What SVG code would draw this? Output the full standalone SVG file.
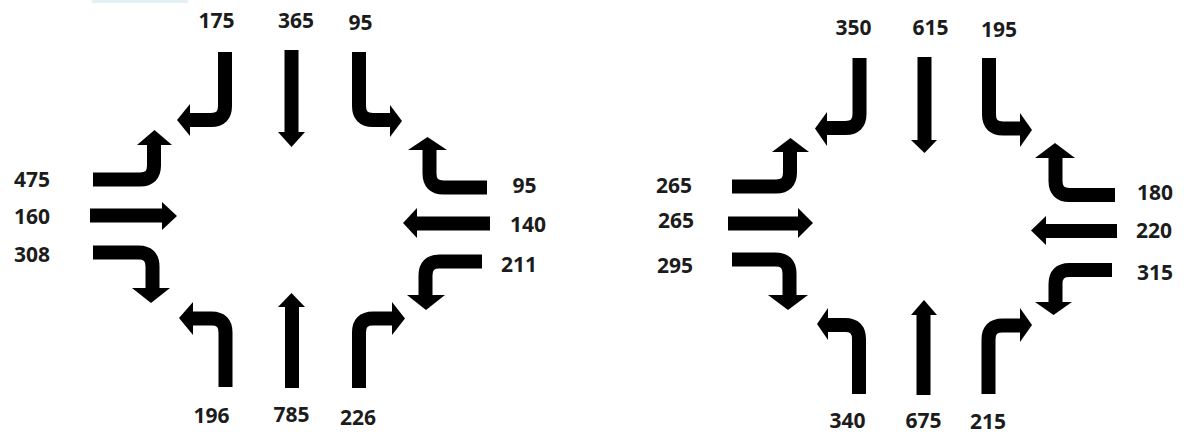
<svg xmlns="http://www.w3.org/2000/svg" width="1184" height="434" viewBox="0 0 1184 434">
  <style>
    .shaft { fill: none; stroke: #000; stroke-width: 14; stroke-linejoin: round; }
    .head { fill: #000; }
    .vol { font-family: "Open Sans", "Liberation Sans", sans-serif; font-weight: 700; font-size: 21px; fill: #1c1c1c; text-anchor: middle; }
  </style>
  <rect width="1184" height="434" fill="#fff"/>
  <rect x="92" y="0" width="96" height="3" fill="#e2f1f4"/>

  <!-- Intersection 1 -->
  <g id="int1-movements">
    <g id="int1-sb-right"><path class="shaft" d="M225,52 V106 Q225,120 211,120 H189"/><polygon class="head" points="177,120 190,104 190,136"/></g>
    <g id="int1-sb-thru"><path class="shaft" d="M291.5,50 V133"/><polygon class="head" points="278,132 305,132 291.5,147"/></g>
    <g id="int1-sb-left"><path class="shaft" d="M359,52 V106 Q359,120 373,120 H391"/><polygon class="head" points="402,121 390,105 390,137"/></g>

    <g id="int1-eb-left"><path class="shaft" d="M93,179.5 H140 Q154,179.5 154,165.5 V144"/><polygon class="head" points="154.5,130 137,145 172,145"/></g>
    <g id="int1-eb-thru"><path class="shaft" d="M90,215.5 H163"/><polygon class="head" points="177,216 162,202 162,230"/></g>
    <g id="int1-eb-right"><path class="shaft" d="M93,252.5 H138.5 Q152.5,252.5 152.5,266.5 V289"/><polygon class="head" points="151,303 132,288 170,288"/></g>

    <g id="int1-wb-right"><path class="shaft" d="M487,187.5 H443.5 Q429.5,187.5 429.5,173.5 V149"/><polygon class="head" points="427.5,137 408,150 447,150"/></g>
    <g id="int1-wb-thru"><path class="shaft" d="M490,223.5 H416"/><polygon class="head" points="403,223 417,208 417,238"/></g>
    <g id="int1-wb-left"><path class="shaft" d="M482,261.5 H439.5 Q425.5,261.5 425.5,275.5 V296"/><polygon class="head" points="426,310 407,295 445,295"/></g>

    <g id="int1-nb-left"><path class="shaft" d="M225.5,387 V332.5 Q225.5,318.5 211.5,318.5 H192"/><polygon class="head" points="179,318 193,302 193,335"/></g>
    <g id="int1-nb-thru"><path class="shaft" d="M292,388 V306"/><polygon class="head" points="291.5,293 278,307 305,307"/></g>
    <g id="int1-nb-right"><path class="shaft" d="M359,388 V332.5 Q359,318.5 373,318.5 H393"/><polygon class="head" points="405,318.5 392,302 392,335"/></g>
  </g>

  <g id="int1-volumes">
    <text class="vol" x="216.5" y="28">175</text>
    <text class="vol" x="296" y="28">365</text>
    <text class="vol" x="360.5" y="30">95</text>
    <text class="vol" x="32" y="187">475</text>
    <text class="vol" x="32" y="224">160</text>
    <text class="vol" x="32" y="262">308</text>
    <text class="vol" x="524.5" y="193">95</text>
    <text class="vol" x="528" y="232">140</text>
    <text class="vol" x="519" y="272">211</text>
    <text class="vol" x="211.5" y="423">196</text>
    <text class="vol" x="291.5" y="422">785</text>
    <text class="vol" x="358" y="425">226</text>
  </g>

  <!-- Intersection 2 -->
  <g id="int2-movements">
    <g id="int2-sb-right"><path class="shaft" d="M859.5,58 V114 Q859.5,128 845.5,128 H826"/><polygon class="head" points="815,128.5 827,112 827,146"/></g>
    <g id="int2-sb-thru"><path class="shaft" d="M924.5,57 V141"/><polygon class="head" points="911,140 937,140 924.5,153"/></g>
    <g id="int2-sb-left"><path class="shaft" d="M989,58 V114.5 Q989,128.5 1003,128.5 H1021"/><polygon class="head" points="1032,130 1020,113 1020,147"/></g>

    <g id="int2-eb-left"><path class="shaft" d="M732,186.5 H776 Q790,186.5 790,172.5 V151"/><polygon class="head" points="790.5,138 772,152 809,152"/></g>
    <g id="int2-eb-thru"><path class="shaft" d="M728,223.5 H799"/><polygon class="head" points="813,223 798,208 798,238"/></g>
    <g id="int2-eb-right"><path class="shaft" d="M732,259.5 H775.5 Q789.5,259.5 789.5,273.5 V296"/><polygon class="head" points="788,310 768,295 808,295"/></g>

    <g id="int2-wb-right"><path class="shaft" d="M1115,195 H1069.5 Q1055.5,195 1055.5,181 V157"/><polygon class="head" points="1055,143 1035,158 1075,158"/></g>
    <g id="int2-wb-thru"><path class="shaft" d="M1117,231 H1045"/><polygon class="head" points="1031,230.5 1046,216 1046,245"/></g>
    <g id="int2-wb-left"><path class="shaft" d="M1112,270 H1069.5 Q1055.5,270 1055.5,284 V303"/><polygon class="head" points="1053.5,315 1035,302 1072,302"/></g>

    <g id="int2-nb-left"><path class="shaft" d="M859,394 V339 Q859,325 845,325 H827"/><polygon class="head" points="817,324 828,308 828,340"/></g>
    <g id="int2-nb-thru"><path class="shaft" d="M923.5,395 V314"/><polygon class="head" points="924,300 911,315 937,315"/></g>
    <g id="int2-nb-right"><path class="shaft" d="M988.5,394 V339.5 Q988.5,325.5 1002.5,325.5 H1021"/><polygon class="head" points="1032,325 1020,308 1020,342"/></g>
  </g>

  <g id="int2-volumes">
    <text class="vol" x="853.5" y="35">350</text>
    <text class="vol" x="930.5" y="35">615</text>
    <text class="vol" x="999" y="37">195</text>
    <text class="vol" x="674" y="193">265</text>
    <text class="vol" x="676" y="228">265</text>
    <text class="vol" x="675" y="273">295</text>
    <text class="vol" x="1155" y="200">180</text>
    <text class="vol" x="1154" y="238">220</text>
    <text class="vol" x="1155" y="280">315</text>
    <text class="vol" x="847.5" y="428">340</text>
    <text class="vol" x="923.5" y="428">675</text>
    <text class="vol" x="988" y="429">215</text>
  </g>
</svg>
